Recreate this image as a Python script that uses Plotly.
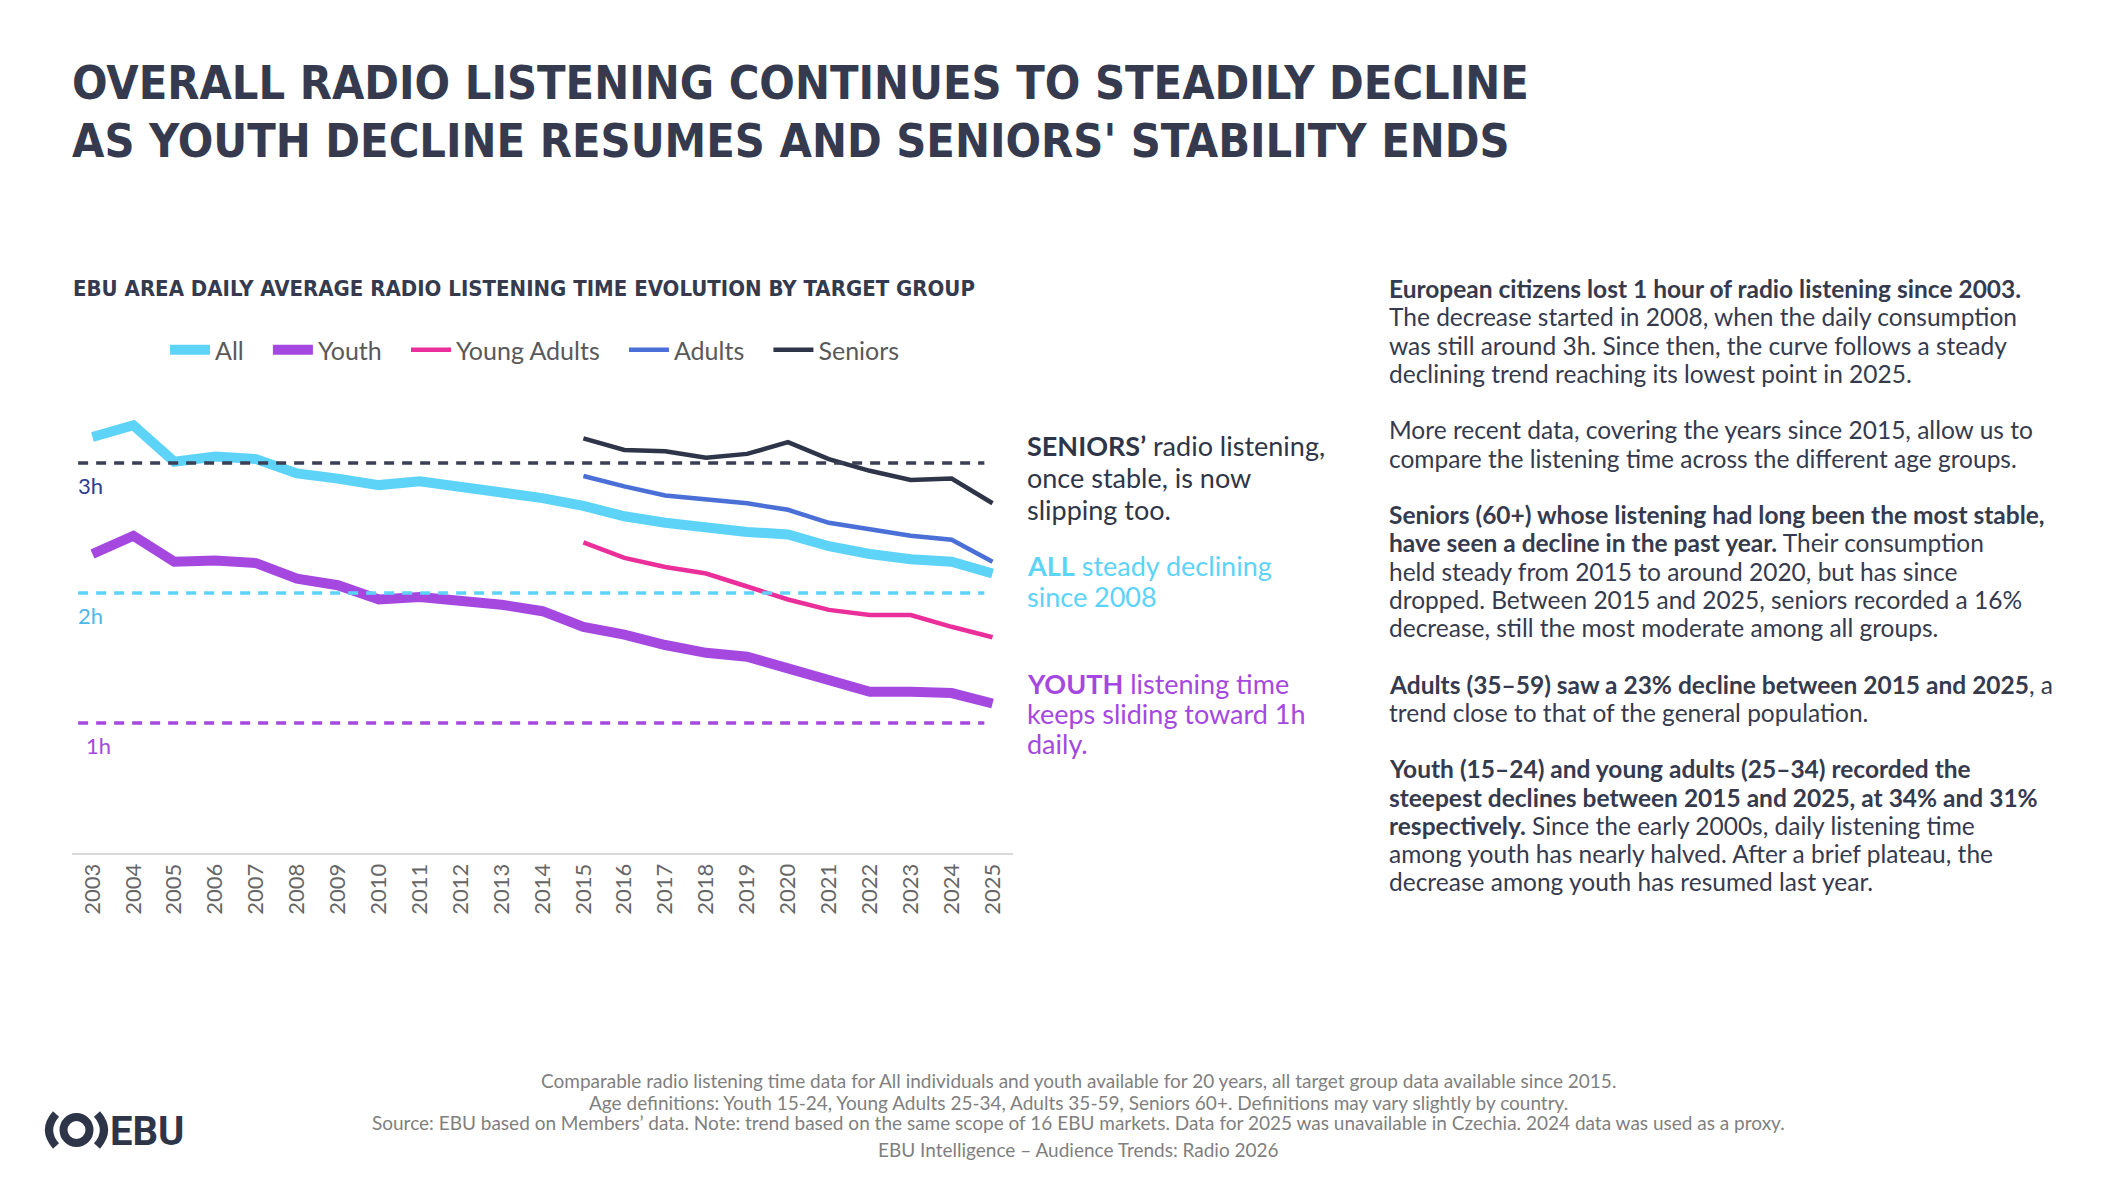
import plotly.graph_objects as go

W, H = 2104, 1180

def px(x):
    return x / W

def py(y):
    return 1 - y / H

# ---------------- data ----------------
years = list(range(2003, 2026))
years_recent = list(range(2015, 2026))
all_individuals = [3.20, 3.29, 3.01, 3.05, 3.03, 2.92, 2.88, 2.83, 2.86, 2.82, 2.78, 2.73,
                   2.67, 2.59, 2.54, 2.50, 2.47, 2.45, 2.36, 2.30, 2.26, 2.24, 2.15]
youth = [2.30, 2.44, 2.24, 2.25, 2.23, 2.11, 2.06, 1.95, 1.97, 1.94, 1.91, 1.86,
         1.74, 1.68, 1.60, 1.54, 1.51, 1.42, 1.32, 1.24, 1.24, 1.23, 1.15]
young_adults = [2.39, 2.27, 2.20, 2.15, 2.05, 1.95, 1.87, 1.83, 1.83, 1.74, 1.66]
adults = [2.90, 2.82, 2.75, 2.72, 2.69, 2.64, 2.54, 2.49, 2.44, 2.41, 2.24]
seniors = [3.19, 3.10, 3.09, 3.04, 3.07, 3.16, 3.03, 2.94, 2.87, 2.88, 2.69]
tick_labels = [str(y) for y in years]
ref_hours = [3, 2, 1]
ref_labels = ["3h", "2h", "1h"]

# ---------------- style ----------------
C_ALL = "#5dd3f8"
C_YOUTH = "#a548e0"
C_YA = "#ea2f9b"
C_ADULTS = "#4a6fd6"
C_SENIORS = "#2f3548"
C_TEXT = "#353a4e"
BODY = "Lato, 'Open Sans', sans-serif"
COND = "'Liberation Sans Narrow', 'DejaVu Sans Condensed', Roboto, sans-serif"
NB = "\u00a0"

fig = go.Figure()
series = [
    ("All", years, all_individuals, C_ALL, 10),
    ("Youth", years, youth, C_YOUTH, 10),
    ("Young Adults", years_recent, young_adults, C_YA, 4.5),
    ("Adults", years_recent, adults, C_ADULTS, 4.5),
    ("Seniors", years_recent, seniors, C_SENIORS, 4.5),
]
for name, xs, ys, col, w in series:
    fig.add_trace(go.Scatter(x=xs, y=ys, name=name + NB * 3, mode="lines",
                             line=dict(color=col, width=w), hoverinfo="skip"))

ref_colors = ["#3a3f55", C_ALL, C_YOUTH]
ref_label_colors = ["#2b3d8f", "#4db8e8", C_YOUTH]
ref_label_x = [76, 76, 84]
for h, lab, lc, tc, lx in zip(ref_hours, ref_labels, ref_colors, ref_label_colors, ref_label_x):
    fig.add_shape(type="line", xref="x", yref="y", x0=2002.65, x1=2024.8, y0=h, y1=h,
                  line=dict(color=lc, width=3.5, dash="10px,8px"), layer="above")
    fig.add_annotation(xref="paper", yref="y", x=px(lx), y=h, yshift=-22,
                       text=lab, showarrow=False, xanchor="left", yanchor="middle",
                       font=dict(family=BODY, size=22, color=tc))


def ann(x, y, text, size, color, family=BODY, xanchor="left", yanchor="middle", align="left"):
    fig.add_annotation(xref="paper", yref="paper", x=px(x), y=py(y), text=text,
                       showarrow=False, xanchor=xanchor, yanchor=yanchor, align=align,
                       font=dict(family=family, size=size, color=color))

# titles
ann(70, 83, "<b>OVERALL RADIO LISTENING CONTINUES TO STEADILY DECLINE</b>", 46.5, C_TEXT, COND)
ann(70, 141, "<b>AS YOUTH DECLINE RESUMES AND SENIORS' STABILITY ENDS</b>", 46.5, C_TEXT, COND)
ann(71, 289, "<b>EBU AREA DAILY AVERAGE RADIO LISTENING TIME EVOLUTION BY TARGET GROUP</b>", 22, C_TEXT, COND)

# callouts (one annotation per line)
callouts = [
    (C_SENIORS, [(445, "<b>SENIORS’</b> radio listening,"), (478, "once stable, is now"), (509, "slipping too.")]),
    (C_ALL, [(565, "<b>ALL</b> steady declining"), (596, "since 2008")]),
    (C_YOUTH, [(683, "<b>YOUTH</b> listening time"), (713, "keeps sliding toward 1h"), (743, "daily.")]),
]
for col, lines in callouts:
    for yy, t in lines:
        ann(1025, yy, t, 27, col)

# right paragraph
para_lines = [
    "<b>European citizens lost 1 hour of radio listening since 2003.</b>",
    "The decrease started in 2008, when the daily consumption",
    "was still around 3h. Since then, the curve follows a steady",
    "declining trend reaching its lowest point in 2025.",
    "",
    "More recent data, covering the years since 2015, allow us to",
    "compare the listening time across the different age groups.",
    "",
    "<b>Seniors (60+) whose listening had long been the most stable,</b>",
    "<b>have seen a decline in the past year.</b> Their consumption",
    "held steady from 2015 to around 2020, but has since",
    "dropped. Between 2015 and 2025, seniors recorded a 16%",
    "decrease, still the most moderate among all groups.",
    "",
    "<b>Adults (35–59) saw a 23% decline between 2015 and 2025</b>, a",
    "trend close to that of the general population.",
    "",
    "<b>Youth (15–24) and young adults (25–34) recorded the</b>",
    "<b>steepest declines between 2015 and 2025, at 34% and 31%</b>",
    "<b>respectively.</b> Since the early 2000s, daily listening time",
    "among youth has nearly halved. After a brief plateau, the",
    "decrease among youth has resumed last year.",
]
line_gap = 28.25
for i, t in enumerate(para_lines):
    if t:
        ann(1387, 288.5 + i * line_gap, t, 24.5, C_TEXT)

# footer
footer = [
    (1080, "Comparable radio listening time data for All individuals and youth available for 20 years, all target group data available since 2015."),
    (1102, "Age definitions: Youth 15-24, Young Adults 25-34, Adults 35-59, Seniors 60+. Definitions may vary slightly by country."),
    (1122, "Source: EBU based on Members’ data. Note: trend based on the same scope of 16 EBU markets. Data for 2025 was unavailable in Czechia. 2024 data was used as a proxy."),
    (1149, "EBU Intelligence – Audience Trends: Radio 2026"),
]
for yy, t in footer:
    ann(1078, yy, t, 19, "#7f7f7f", xanchor="center", align="center")

# EBU logo
logo_col = "#2f3548"
fig.add_shape(type="circle", xref="paper", yref="paper",
              x0=px(63.5), x1=px(89.5), y0=py(1143), y1=py(1117),
              line=dict(color=logo_col, width=8))
fig.add_shape(type="path", xref="paper", yref="paper",
              path=f"M{px(56)},{py(1114)} Q{px(42)},{py(1130)} {px(56)},{py(1146)}",
              line=dict(color=logo_col, width=8))
fig.add_shape(type="path", xref="paper", yref="paper",
              path=f"M{px(97)},{py(1114)} Q{px(111)},{py(1130)} {px(97)},{py(1146)}",
              line=dict(color=logo_col, width=8))
ann(108, 1131, "<b>EBU</b>", 40, logo_col, "Roboto, sans-serif")

fig.update_layout(
    width=W, height=H,
    margin=dict(l=0, r=0, t=0, b=0),
    paper_bgcolor="white", plot_bgcolor="white",
    showlegend=True,
    legend=dict(orientation="h", x=px(165), y=py(350), xanchor="left", yanchor="middle",
                font=dict(family=BODY, size=25, color="#595959"),
                itemwidth=40, bgcolor="rgba(0,0,0,0)"),
    xaxis=dict(domain=[px(72), px(1013)], range=[2002.5, 2025.5],
               tickmode="array", tickvals=years, ticktext=tick_labels,
               tickangle=-90, showgrid=False, zeroline=False,
               showline=True, linecolor="#d9d9d9", linewidth=2, ticks="",
               tickfont=dict(family=BODY, size=22, color="#666666"),
               ticklabelstandoff=0, fixedrange=True),
    yaxis=dict(domain=[py(853), py(385)], range=[0, 3.6], visible=False,
               fixedrange=True),
)

fig.write_html("out.html")
